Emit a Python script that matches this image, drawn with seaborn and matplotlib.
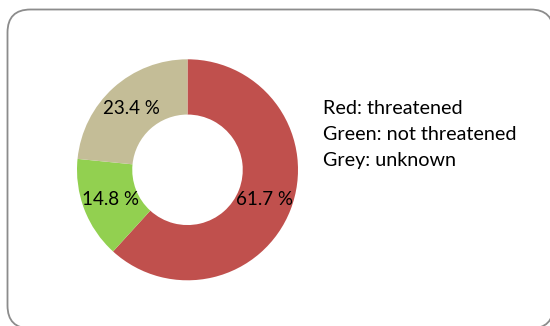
import matplotlib
matplotlib.use("Agg")
import matplotlib.pyplot as plt
import seaborn as sns
from matplotlib.patches import FancyBboxPatch

sns.set_theme(style="white")
plt.rcParams['font.family'] = ['Lato', 'DejaVu Sans']

categories = ["threatened", "not threatened", "unknown"]
values = [61.7, 14.8, 23.4]
colors = ["#C0504D", "#92D050", "#C4BD97"]
legend_lines = ["Red: threatened", "Green: not threatened", "Grey: unknown"]

W, H = 550, 326
fig = plt.figure(figsize=(W / 100, H / 100), dpi=100)
fig.patch.set_facecolor("white")

# background axes in pixel units for the rounded frame
bg = fig.add_axes([0, 0, 1, 1])
bg.set_xlim(0, W)
bg.set_ylim(0, H)
bg.axis("off")
bg.set_zorder(0)
border = FancyBboxPatch((7.5, -2.5), 546, 319,
                        boxstyle="round,pad=0,rounding_size=23",
                        facecolor="white", edgecolor="#8c8c8c", linewidth=1.3,
                        clip_on=False)
bg.add_patch(border)

cx, cy, r = 187.5, 326 - 169.8, 110.5
ax = fig.add_axes([(cx - r) / W, (cy - r) / H, 2 * r / W, 2 * r / H])
ax.set_facecolor("none")
ax.set_zorder(2)
wedges, texts, autotexts = ax.pie(values, colors=colors, startangle=90, counterclock=False,
                                  radius=1.0, autopct="%1.1f", pctdistance=0.75,
                                  wedgeprops=dict(width=0.5, edgecolor="none"),
                                  textprops=dict(fontsize=13.5, color="black"))
for t, v in zip(autotexts, values):
    t.set_text(f"{v} %")
ax.set_xlim(-1, 1)
ax.set_ylim(-1, 1)
ax.set_aspect("equal")
ax.axis("off")

for i, line in enumerate(legend_lines):
    fig.text(323 / W, 1 - (108 + 26 * i) / H, line, fontsize=14.2, color="black",
             ha="left", va="center", zorder=5)

fig.savefig("out.png", dpi=100, facecolor="white")
